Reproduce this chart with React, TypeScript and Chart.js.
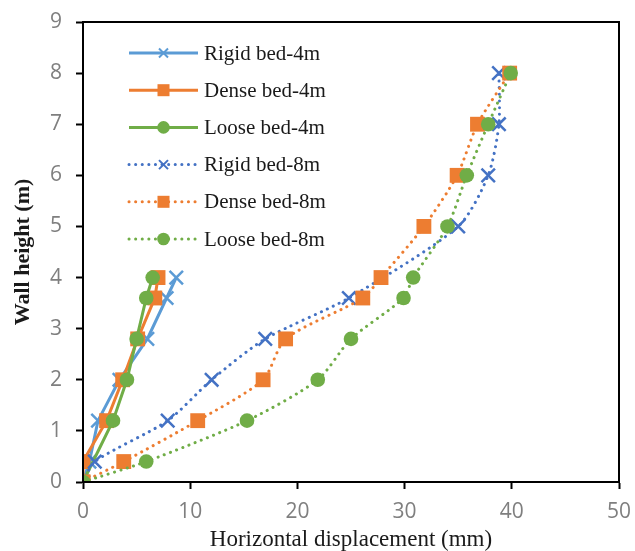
import React, { useEffect, useRef } from "react";
import { Chart, registerables } from "chart.js";
Chart.register(...registerables);

const seriesNames = ["Rigid bed-4m", "Dense bed-4m", "Loose bed-4m", "Rigid bed-8m", "Dense bed-8m", "Loose bed-8m"];

const rigid4X = [0, 0.6, 1.4, 3.4, 6.0, 7.8, 8.7];
const rigid4Y = [0, 0.4, 1.2, 2, 2.8, 3.6, 4];
const dense4X = [0, 0, 2.2, 3.7, 5.1, 6.7, 7.0];
const dense4Y = [0, 0.4, 1.2, 2, 2.8, 3.6, 4];
const loose4X = [0, 2.8, 4.1, 5.0, 5.9, 6.5];
const loose4Y = [0, 1.2, 2, 2.8, 3.6, 4];
const rigid8X = [0, 1.1, 7.9, 12.0, 17.0, 24.8, 35.0, 37.8, 38.8, 38.8];
const rigid8Y = [0, 0.4, 1.2, 2, 2.8, 3.6, 5, 6, 7, 8];
const dense8X = [0, 3.8, 10.7, 16.8, 18.9, 26.1, 27.8, 31.8, 34.9, 36.8, 39.8];
const dense8Y = [0, 0.4, 1.2, 2, 2.8, 3.6, 4, 5, 6, 7, 8];
const loose8X = [0, 5.9, 15.3, 21.9, 25.0, 29.9, 30.8, 34.0, 35.8, 37.8, 39.9];
const loose8Y = [0, 0.4, 1.2, 2, 2.8, 3.6, 4, 5, 6, 7, 8];

const colors = ["#5B9BD5", "#ED7D31", "#70AD47", "#4472C4", "#ED7D31", "#70AD47"];
const markers = ["crossRot", "rect", "circle", "crossRot", "rect", "circle"];

const pts = (xs: number[], ys: number[]) => xs.map((x, i) => ({ x, y: ys[i] }));

const SERIF = "'Liberation Serif', 'Times New Roman', serif";
const SANS = "'Open Sans', 'Noto Sans', sans-serif";

const frameAndLegend = {
  id: "frameAndLegend",
  afterDraw(chart: any) {
    const ctx = chart.ctx;
    const a = chart.chartArea;
    ctx.save();
    ctx.strokeStyle = "#000";
    ctx.lineWidth = 2;
    ctx.setLineDash([]);
    ctx.strokeRect(a.left, a.top, a.right - a.left, a.bottom - a.top);

    const ds = chart.data.datasets;
    for (let i = 0; i < ds.length; i++) {
      const d = ds[i];
      const y = 53 + i * 37.2;
      const x0 = 129, x1 = 198;
      ctx.strokeStyle = d.borderColor;
      ctx.lineWidth = 3;
      if (i >= 3) {
        ctx.setLineDash([0.1, 6.5]);
        ctx.lineCap = "round";
      } else {
        ctx.setLineDash([]);
        ctx.lineCap = "butt";
      }
      ctx.beginPath();
      ctx.moveTo(x0, y);
      ctx.lineTo(x1, y);
      ctx.stroke();
      ctx.setLineDash([]);
      const cx = (x0 + x1) / 2;
      const style = markers[i];
      ctx.fillStyle = d.backgroundColor;
      if (style === "rect") {
        ctx.fillRect(cx - 6, y - 6, 12, 12);
      } else if (style === "circle") {
        ctx.beginPath();
        ctx.arc(cx, y, 6.3, 0, Math.PI * 2);
        ctx.fill();
      } else {
        ctx.lineWidth = 2;
        ctx.lineCap = "butt";
        ctx.beginPath();
        ctx.moveTo(cx - 4.5, y - 4.5);
        ctx.lineTo(cx + 4.5, y + 4.5);
        ctx.moveTo(cx + 4.5, y - 4.5);
        ctx.lineTo(cx - 4.5, y + 4.5);
        ctx.stroke();
      }
      ctx.fillStyle = "#1a1a1a";
      ctx.font = `21px ${SERIF}`;
      ctx.textBaseline = "middle";
      ctx.textAlign = "left";
      ctx.fillText(d.label, 204, y + 1);
    }
    ctx.restore();
  },
};

export default function App() {
  const ref = useRef<HTMLCanvasElement>(null);
  useEffect(() => {
    document.body.style.margin = "0";
    const data = [
      pts(rigid4X, rigid4Y),
      pts(dense4X, dense4Y),
      pts(loose4X, loose4Y),
      pts(rigid8X, rigid8Y),
      pts(dense8X, dense8Y),
      pts(loose8X, loose8Y),
    ];
    const datasets = data.map((d, i) => ({
      label: seriesNames[i],
      data: d,
      showLine: true,
      borderColor: colors[i],
      backgroundColor: colors[i],
      pointBorderColor: colors[i],
      pointBackgroundColor: colors[i],
      borderWidth: 3,
      borderDash: i >= 3 ? [0.1, 6.5] : [],
      borderCapStyle: i >= 3 ? "round" : "butt",
      tension: i >= 3 ? 0.25 : 0,
      pointStyle: markers[i],
      pointRadius: markers[i] === "rect" ? 10.5 : markers[i] === "circle" ? 7.3 : 9.5,
      pointBorderWidth: markers[i] === "crossRot" ? 2.5 : 0,
      order: 6 - i,
    }));
    const chart = new Chart(ref.current!, {
      type: "scatter",
      data: { datasets: datasets as any },
      plugins: [frameAndLegend],
      options: {
        animation: false,
        responsive: false,
        devicePixelRatio: 1,
        layout: { padding: { top: 22, right: 16, left: 0, bottom: 0 } },
        plugins: { legend: { display: false }, tooltip: { enabled: false } },
        scales: {
          x: {
            type: "linear",
            min: 0,
            max: 50,
            ticks: { stepSize: 10, color: "#7f7f7f", font: { family: SANS, size: 21 }, padding: 10 },
            grid: { display: true, drawOnChartArea: false, drawTicks: true, tickLength: 7, tickColor: "#000", tickWidth: 2 },
            border: { color: "#000", width: 2 },
            title: { display: true, text: "Horizontal displacement (mm)", color: "#1a1a1a", font: { family: SERIF, size: 23, lineHeight: 1 }, padding: { top: 0, bottom: 0 } },
            afterFit: (s: any) => { s.height = 551 - 482; s.paddingLeft = 0; s.paddingRight = 0; },
          },
          y: {
            type: "linear",
            min: 0,
            max: 9,
            ticks: { stepSize: 1, color: "#7f7f7f", font: { family: SANS, size: 21 }, padding: 14 },
            grid: { display: true, drawOnChartArea: false, drawTicks: true, tickLength: 7, tickColor: "#000", tickWidth: 2 },
            border: { color: "#000", width: 2 },
            title: { display: true, text: "Wall height (m)", color: "#1a1a1a", font: { family: SERIF, size: 22, weight: "bold", lineHeight: 1.2 }, padding: { top: 10, bottom: 0 } },
            afterFit: (s: any) => { s.width = 83; s.paddingTop = 0; s.paddingBottom = 0; },
          },
        },
      },
    });
    return () => chart.destroy();
  }, []);
  return (
    <div style={{ width: 635, height: 551 }}>
      <canvas ref={ref} width={635} height={551} style={{ display: "block" }} />
    </div>
  );
}
